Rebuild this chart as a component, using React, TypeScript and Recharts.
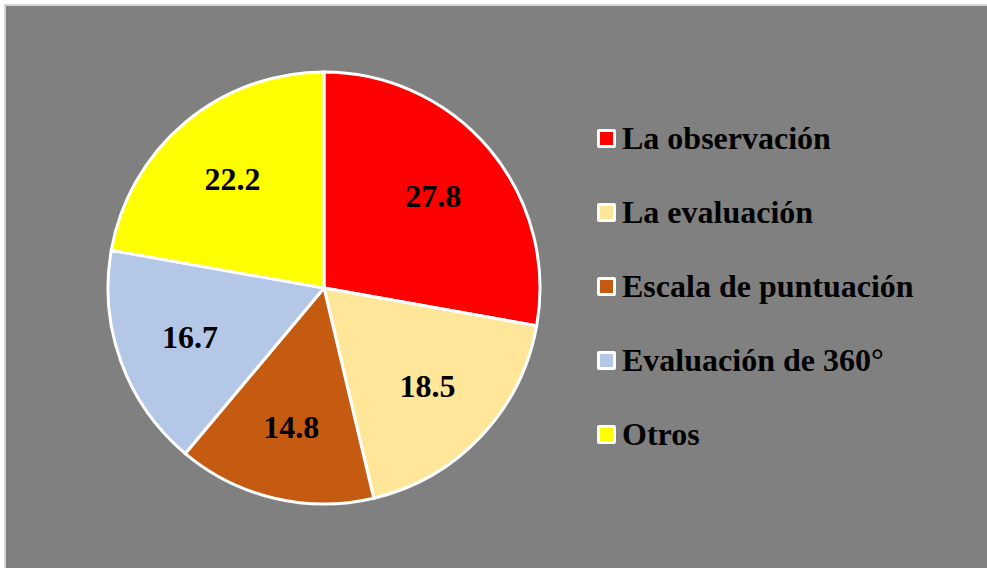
import { PieChart, Pie, Cell, Legend } from "recharts";

const categories = [
  "La observación",
  "La evaluación",
  "Escala de puntuación",
  "Evaluación de 360°",
  "Otros",
];
const values = [27.8, 18.5, 14.8, 16.7, 22.2];
const colors = ["#FF0000", "#FFE699", "#C55A11", "#B4C7E7", "#FFFF00"];

const data = categories.map((name, i) => ({ name, value: values[i] }));

const FONT = '"Liberation Serif", "Times New Roman", serif';
const RADIAN = Math.PI / 180;

function renderLabel(props: any) {
  const { cx, cy, midAngle, outerRadius, value } = props;
  const r = outerRadius * 0.66;
  const x = cx + r * Math.cos(-midAngle * RADIAN);
  const y = cy + r * Math.sin(-midAngle * RADIAN);
  return (
    <text
      x={x}
      y={y}
      textAnchor="middle"
      dominantBaseline="central"
      fill="#000"
      fontFamily={FONT}
      fontWeight="bold"
      fontSize={32}
    >
      {value.toFixed(1)}
    </text>
  );
}

// legend drawn in data order (recharts would sort it)
function renderLegend() {
  return (
    <div style={{ fontFamily: FONT, fontWeight: "bold", fontSize: 32 }}>
      {categories.map((name, i) => (
        <div
          key={name}
          style={{ display: "flex", alignItems: "center", height: 74, lineHeight: "74px" }}
        >
          <span
            style={{
              display: "inline-block",
              width: 13,
              height: 13,
              background: colors[i],
              border: "3px solid #fff",
              borderRadius: 2,
              marginRight: 6,
            }}
          />
          <span style={{ color: "#000" }}>{name}</span>
        </div>
      ))}
    </div>
  );
}

export default function App() {
  return (
    <div
      style={{
        position: "absolute",
        left: 0,
        top: 0,
        width: 987,
        height: 568,
        background: "#fff",
        overflow: "hidden",
      }}
    >
      <div
        style={{
          position: "absolute",
          left: 4,
          top: 4,
          width: 990,
          height: 570,
          background: "#808080",
          border: "2px solid #d4d4d4",
        }}
      />
      <div style={{ position: "absolute", left: 0, top: 0 }}>
        <PieChart
          width={987}
          height={568}
          margin={{ top: 0, right: 0, bottom: 0, left: 0 }}
        >
          <Pie
            data={data}
            dataKey="value"
            nameKey="name"
            cx={324}
            cy={288}
            outerRadius={216}
            startAngle={90}
            endAngle={-270}
            stroke="#fff"
            strokeWidth={3}
            label={renderLabel}
            labelLine={false}
            isAnimationActive={false}
          >
            {data.map((d, i) => (
              <Cell key={d.name} fill={colors[i]} />
            ))}
          </Pie>
          <Legend
            layout="vertical"
            content={renderLegend}
            wrapperStyle={{ left: 597, top: 101, width: 380 }}
          />
        </PieChart>
      </div>
    </div>
  );
}
